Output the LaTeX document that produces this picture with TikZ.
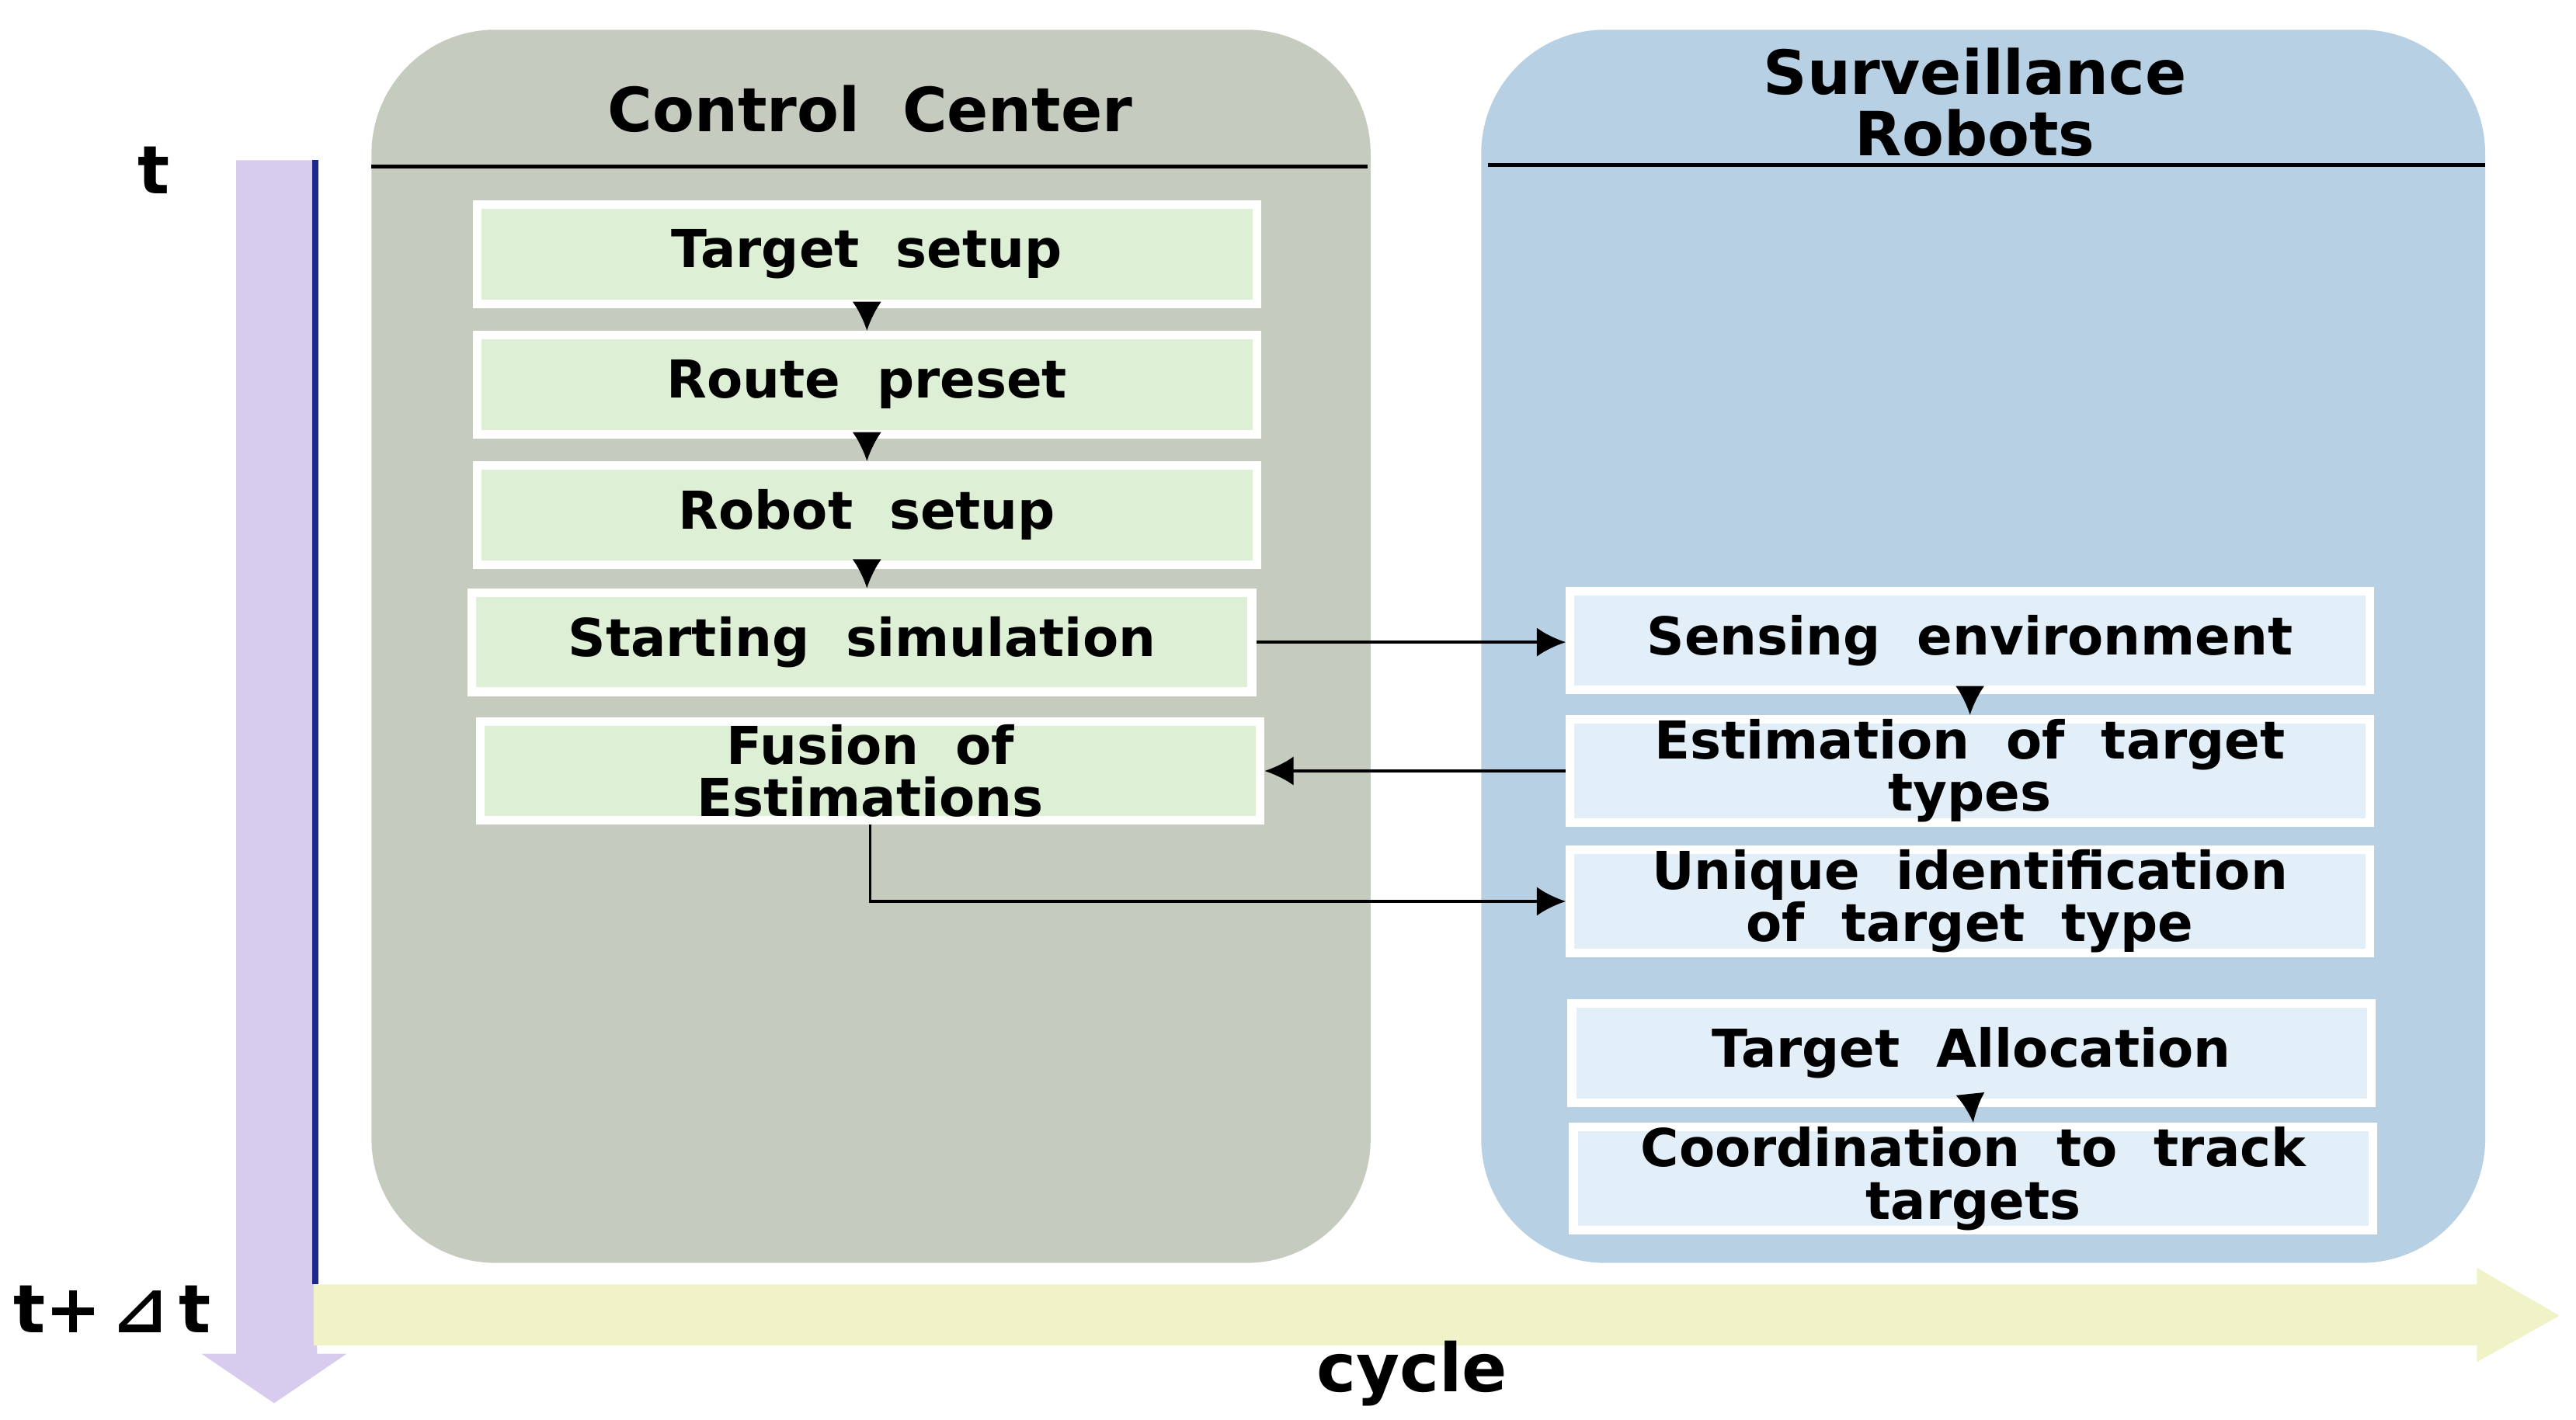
\documentclass[tikz,border=0pt]{standalone}
\usepackage{fontspec}
\setmainfont{DejaVu Sans}
\usetikzlibrary{arrows.meta}
\definecolor{ccgray}{RGB}{197,203,190}
\definecolor{srblue}{RGB}{184,208,228}
\definecolor{gfill}{RGB}{221,239,213}
\definecolor{bfill}{RGB}{226,238,248}
\definecolor{tpurple}{RGB}{216,204,238}
\definecolor{tline}{RGB}{30,40,140}
\definecolor{cyell}{RGB}{240,242,200}
\begin{document}
\begin{tikzpicture}[x=0.01cm,y=-0.01cm,
 panel/.style={rounded corners=0.75cm,draw=none},
 gbox/.style={draw=white,line width=1.5pt,fill=gfill,minimum width=4.72cm,minimum height=0.6cm,inner sep=0pt,font=\bfseries\fontsize{9}{9}\selectfont,align=center},
 bbox/.style={gbox,fill=bfill,minimum width=4.84cm},
 ar/.style={-{Latex[length=5pt,width=5pt]},line width=0.5pt},
 big/.style={font=\bfseries\fontsize{10.5}{10.5}\selectfont},
 lab/.style={font=\bfseries\fontsize{11.5}{12}\selectfont}]
\useasboundingbox (0,0) rectangle (1560,860);
\fill[white] (0,0) rectangle (1560,860);
% panels
\fill[panel,fill=ccgray] (225,18) rectangle (830,765);
\fill[panel,fill=srblue] (897,18) rectangle (1505,765);
\draw[line width=0.7pt] (225,101) -- (828,101);
\draw[line width=0.7pt] (901,100) -- (1505,100);
\node[big] (cc) at (527,66) {Control\ \ Center};
\node[big,align=center] (sr) at (1196,62) {Surveillance\\Robots};
% green boxes
\node[gbox] (ts) at (525,154) {Target\ \ setup};
\node[gbox] (rp) at (525,233) {Route\ \ preset};
\node[gbox] (rs) at (525,312) {Robot\ \ setup};
\node[gbox] (ss) at (522,389) {Starting\ \ simulation};
\node[gbox] (fe) at (527,467) {Fusion\ \ of\\Estimations};
% blue boxes
\node[bbox] (se) at (1193,388) {Sensing\ \ environment};
\node[bbox] (et) at (1193,467) {Estimation\ \ of\ \ target\\types};
\node[bbox] (ui) at (1193,546) {Unique\ \ identification\\of\ \ target\ \ type};
\node[bbox] (ta) at (1194,638) {Target\ \ Allocation};
\node[bbox] (ct) at (1195,714) {Coordination\ \ to\ \ track\\targets};
% arrows
\draw[ar] (ts.south) -- (rp.north);
\draw[ar] (rp.south) -- (rp.south|-rs.north);
\draw[ar] (rs.south) -- (rs.south|-ss.north);
\draw[ar] (ss.east) -- (ss.east-|se.west);
\draw[ar] (et.west) -- (et.west-|fe.east);
\draw[ar] (fe.south) |- (ui.west);
\draw[ar] (se.south) -- (et.north);
\draw[ar] (ta.south) -- (ct.north);
% time arrow
\fill[fill=tpurple] (143,97) -- (192,97) -- (192,820) -- (210,820) -- (166,850) -- (122,820) -- (143,820) -- cycle;
\draw[line width=1pt,draw=tline] (191,97) -- (191,778);
% cycle arrow
\fill[fill=cyell] (190,778) -- (1500,778) -- (1500,768) -- (1550,797) -- (1500,825) -- (1500,815) -- (190,815) -- cycle;
\node[lab] (t) at (93,103) {t};
\node[lab] (tdt) at (68,793) {t+\,⊿\,t};
\node[lab] (cy) at (855,832) {cycle};
\end{tikzpicture}
\end{document}
